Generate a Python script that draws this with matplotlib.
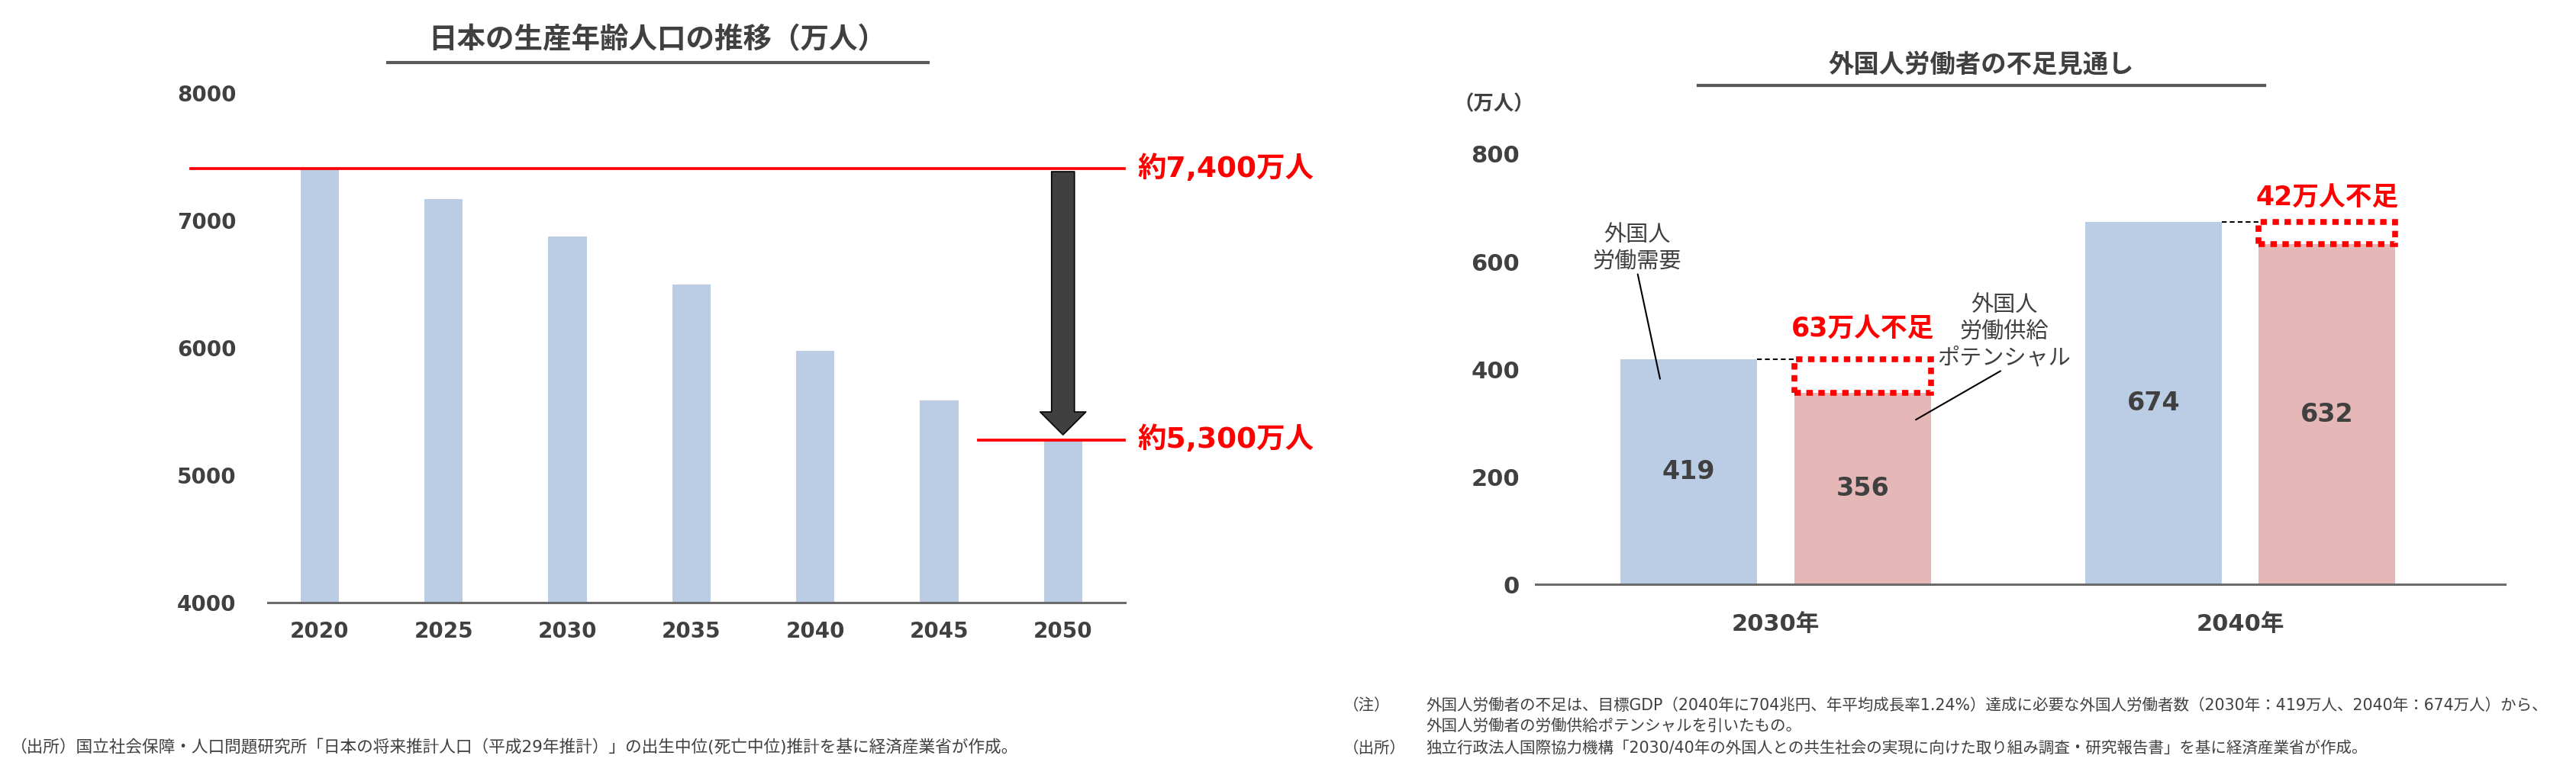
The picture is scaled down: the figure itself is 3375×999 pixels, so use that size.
import matplotlib
matplotlib.use('Agg')
import matplotlib.pyplot as plt
from matplotlib.patches import Rectangle, FancyArrowPatch
from matplotlib.lines import Line2D

plt.rcParams['font.family'] = ['DejaVu Sans', 'Noto Sans CJK JP']

# ---------------- data ----------------
years = ['2020', '2025', '2030', '2035', '2040', '2045', '2050']
population = [7406, 7170, 6875, 6494, 5978, 5584, 5275]
pop_yticks = [4000, 5000, 6000, 7000, 8000]
pop_start_label = '約7,400万人'
pop_end_label = '約5,300万人'
pop_title = '日本の生産年齢人口の推移（万人）'

fw_categories = ['2030年', '2040年']
fw_demand = [419, 674]
fw_supply = [356, 632]
fw_shortage_labels = ['63万人不足', '42万人不足']
fw_yticks = [0, 200, 400, 600, 800]
fw_title = '外国人労働者の不足見通し'
fw_unit = '（万人）'
fw_demand_label = '外国人\n労働需要'
fw_supply_label = '外国人\n労働供給\nポテンシャル'

left_note = '（出所）国立社会保障・人口問題研究所「日本の将来推計人口（平成29年推計）」の出生中位(死亡中位)推計を基に経済産業省が作成。'
right_note_head1 = '（注）'
right_note_line1 = '外国人労働者の不足は、目標GDP（2040年に704兆円、年平均成長率1.24%）達成に必要な外国人労働者数（2030年：419万人、2040年：674万人）から、'
right_note_line2 = '外国人労働者の労働供給ポテンシャルを引いたもの。'
right_note_head2 = '（出所）'
right_note_line3 = '独立行政法人国際協力機構「2030/40年の外国人との共生社会の実現に向けた取り組み調査・研究報告書」を基に経済産業省が作成。'

# ---------------- style ----------------
DARK = '#404040'
BLUE = '#BBCDE5'
PINK = '#E5B7B7'
RED = '#FF0000'
AXIS = '#6b6b6b'

fig = plt.figure(figsize=(33.75, 9.99), dpi=100)

# ================= left chart =================
ax1 = fig.add_axes([0.104, 0.2092, 0.3327, 0.6687])
x1 = list(range(len(years)))
ax1.bar(x1, population, width=0.31, color=BLUE, zorder=2)
ax1.set_ylim(pop_yticks[0], pop_yticks[-1])
ax1.set_xlim(-0.419, 6.5)
ax1.set_yticks(pop_yticks)
ax1.set_xticks(x1, years)
for s in ['top', 'right', 'left']:
    ax1.spines[s].set_visible(False)
ax1.spines['bottom'].set_color(AXIS)
ax1.spines['bottom'].set_linewidth(2.2)
ax1.spines['bottom'].set_zorder(3)
ax1.tick_params(axis='both', length=0, labelsize=20, labelcolor=DARK)
ax1.tick_params(axis='y', pad=30)
ax1.tick_params(axis='x', pad=17)
for lab in ax1.get_xticklabels() + ax1.get_yticklabels():
    lab.set_fontweight('bold')

# red reference lines
ax1.plot([-1.04, 6.495], [population[0]] * 2, color=RED, lw=2.7, clip_on=False, zorder=4)
ax1.plot([5.32, 6.495], [population[-1]] * 2, color=RED, lw=2.7, clip_on=False, zorder=4)
ax1.text(6.6, population[0], pop_start_label, color=RED, fontsize=27, fontweight='bold',
         ha='left', va='center', clip_on=False)
ax1.text(6.6, population[-1], pop_end_label, color=RED, fontsize=27, fontweight='bold',
         ha='left', va='center', clip_on=False)

arrow = FancyArrowPatch(posA=(6, 7383), posB=(6, 5317),
                        arrowstyle='simple,head_length=0.72,head_width=1.44,tail_width=0.72',
                        mutation_scale=30, fc='#404040', ec='black', lw=1.2,
                        shrinkA=0, shrinkB=0, zorder=5)
ax1.add_patch(arrow)

fig.text(0.2551, 0.947, pop_title, ha='center', va='center', fontsize=27,
         fontweight='bold', color=DARK)
fig.add_artist(Line2D([0.1505, 0.3603], [0.9179, 0.9179], color='#595959', lw=3))

# ================= right chart =================
ax2 = fig.add_axes([0.5961, 0.2332, 0.3763, 0.5646])
xc = list(range(len(fw_categories)))
off = 0.187
w = 0.294
b1 = ax2.bar([x - off for x in xc], fw_demand, w, color=BLUE, zorder=2)
b2 = ax2.bar([x + off for x in xc], fw_supply, w, color=PINK, zorder=2)
ax2.bar_label(b1, label_type='center', fontsize=24, fontweight='bold', color=DARK)
ax2.bar_label(b2, label_type='center', fontsize=24, fontweight='bold', color=DARK)
ax2.set_xlim(-0.517, 1.570)
ax2.set_ylim(fw_yticks[0], fw_yticks[-1])
ax2.set_yticks(fw_yticks)
ax2.set_xticks(xc, fw_categories)
for s in ['top', 'right', 'left']:
    ax2.spines[s].set_visible(False)
ax2.spines['bottom'].set_color(AXIS)
ax2.spines['bottom'].set_linewidth(2.2)
ax2.spines['bottom'].set_zorder(3)
ax2.tick_params(axis='both', length=0, labelsize=22, labelcolor=DARK)
ax2.tick_params(axis='y', pad=15)
ax2.tick_params(axis='x', pad=27)
for lab in ax2.get_xticklabels() + ax2.get_yticklabels():
    lab.set_fontweight('bold')

shortage_dy = [56, 45]
for i, x in enumerate(xc):
    d, s = fw_demand[i], fw_supply[i]
    ax2.add_patch(Rectangle((x + off - w / 2, s), w, d - s, fill=False, ec=RED, lw=5.5,
                            ls=(0, (1.1, 0.95)), zorder=4))
    ax2.plot([x - off + w / 2, x + off - w / 2], [d, d], color='black', lw=1.5,
             ls=(0, (3, 2)), zorder=4)
    ax2.text(x + off, d + shortage_dy[i], fw_shortage_labels[i], color=RED, fontsize=25,
             fontweight='bold', ha='center', va='center')

ax2.annotate(fw_demand_label, xy=(-0.249, 382), xytext=(-0.298, 625),
             ha='center', va='center', fontsize=21, color=DARK, linespacing=1.3,
             arrowprops=dict(arrowstyle='-', color='black', lw=1.5, shrinkA=0, shrinkB=0,
                             relpos=(0.5, 0)), zorder=5)
ax2.annotate(fw_supply_label, xy=(0.3016, 306), xytext=(0.492, 469.5),
             ha='center', va='center', fontsize=21, color=DARK, linespacing=1.3,
             arrowprops=dict(arrowstyle='-', color='black', lw=1.5, shrinkA=0, shrinkB=0,
                             relpos=(0.5, 0)), zorder=5)

fig.text(0.580, 0.863, fw_unit, ha='center', va='center', fontsize=19,
         fontweight='bold', color=DARK)
fig.text(0.7692, 0.915, fw_title, ha='center', va='center', fontsize=24,
         fontweight='bold', color=DARK)
fig.add_artist(Line2D([0.6593, 0.8791], [0.8879, 0.8879], color='#595959', lw=3))

# ================= notes =================
fig.text(0.004, 0.020, left_note, ha='left', va='center', fontsize=15.6, color=DARK)
NOTE_FS = 14.8
fig.text(0.5215, 0.074, right_note_head1, ha='left', va='center', fontsize=NOTE_FS, color=DARK)
fig.text(0.5535, 0.074, right_note_line1, ha='left', va='center', fontsize=NOTE_FS, color=DARK)
fig.text(0.5535, 0.047, right_note_line2, ha='left', va='center', fontsize=NOTE_FS, color=DARK)
fig.text(0.5215, 0.018, right_note_head2, ha='left', va='center', fontsize=NOTE_FS, color=DARK)
fig.text(0.5535, 0.018, right_note_line3, ha='left', va='center', fontsize=NOTE_FS, color=DARK)

fig.savefig('out.png', dpi=100, facecolor='white')
